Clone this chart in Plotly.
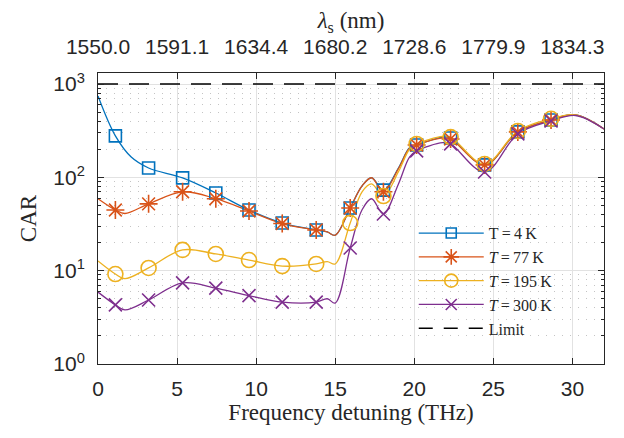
import plotly.graph_objects as go

# ---- data ----
marker_x = [1.1, 3.2, 5.35, 7.45, 9.55, 11.65, 13.8, 15.95, 18.05, 20.15, 22.3, 24.45, 26.55, 28.65]
car_4K = [278, 126, 98.6, 68, 44.7, 32.4, 27.3, 47, 73, 222, 264, 136, 307, 412]
car_77K = [44.7, 52, 70, 59, 43.6, 32, 27.3, 47, 70, 222, 258, 136, 307, 412]
car_195K = [9.2, 10.7, 16.7, 15.1, 13.0, 11.2, 11.8, 32.4, 63, 228, 270, 139, 314, 424]
car_300K = [4.3, 4.85, 7.4, 6.5, 5.4, 4.6, 4.6, 17.5, 40.5, 192, 228, 114, 292, 402]

curve_x_4K = [0, 1.1, 2.1, 3.2, 5.35, 7.45, 9.55, 11.65, 13.8, 14.5, 15.0, 15.95, 16.7, 17.3, 18.05, 19.0, 19.7, 20.15, 21.8, 22.3, 24.45, 26.55, 28.65, 30.2, 32]
curve_y_4K = [745, 278, 165, 126, 98.6, 68, 44.7, 32.4, 27.3, 26, 24, 47, 81, 99, 73, 126, 207, 222, 270, 264, 136, 307, 412, 467, 330]
curve_x_77K = [0, 1.1, 1.7, 3.2, 5.35, 7.45, 9.55, 11.65, 13.8, 14.5, 15.0, 15.95, 16.7, 17.3, 18.05, 19.0, 19.7, 20.15, 21.8, 22.3, 24.45, 26.55, 28.65, 30.2, 32]
curve_y_77K = [59, 44.7, 41, 52, 70, 59, 43.6, 32, 27.3, 26, 24, 47, 81, 99, 70, 124, 205, 222, 265, 258, 136, 307, 412, 467, 330]
curve_x_195K = [0, 1.1, 1.7, 3.2, 5.35, 7.45, 9.55, 11.65, 13.8, 14.5, 15.0, 15.95, 16.7, 17.3, 18.05, 19.0, 19.7, 20.15, 21.8, 22.3, 24.45, 26.55, 28.65, 30.2, 32]
curve_y_195K = [12.7, 9.2, 8.2, 10.7, 16.7, 15.1, 13.0, 11.2, 11.8, 12.5, 11.8, 32.4, 70, 85, 63, 115, 200, 228, 275, 270, 139, 314, 424, 467, 330]
curve_x_300K = [0, 1.1, 1.7, 3.2, 5.35, 7.45, 9.55, 11.65, 13.8, 14.5, 15.0, 15.95, 16.7, 17.3, 18.05, 19.0, 19.7, 20.15, 21.8, 22.3, 24.45, 26.55, 28.65, 30.2, 32]
curve_y_300K = [5.9, 4.3, 3.8, 4.85, 7.4, 6.5, 5.4, 4.6, 4.6, 5.0, 4.5, 17.5, 45, 59, 40.5, 85, 165, 192, 235, 228, 114, 292, 402, 460, 330]

limit_x = [0, 32]
limit_y = [1000, 1000]

lambda_tick_pos = [0, 5, 10, 15, 20, 25, 30]
lambda_tick_text = ["1550.0", "1591.1", "1634.4", "1680.2", "1728.6", "1779.9", "1834.3"]
x_tick_vals = [0, 5, 10, 15, 20, 25, 30]
y_tick_vals = [1, 10, 100, 1000]
y_tick_text = ["10<sup>0</sup>", "10<sup>1</sup>", "10<sup>2</sup>", "10<sup>3</sup>"]
y_minor_vals = [m * 10 ** e for e in range(0, 3) for m in range(2, 10)]

names = ["T\u2009=\u20094\u2009K", "<i>T</i>\u2009=\u200977\u2009K",
         "<i>T</i>\u2009=\u2009195\u2009K", "<i>T</i>\u2009=\u2009300\u2009K"]
colors = ["#0072BD", "#D95319", "#EDB120", "#7E2F8E"]
symbols = ["square-open", "asterisk-open", "circle-open", "x-thin-open"]
msizes = [12, 15, 15, 13]

curves = [(curve_x_4K, curve_y_4K), (curve_x_77K, curve_y_77K),
          (curve_x_195K, curve_y_195K), (curve_x_300K, curve_y_300K)]
markers = [car_4K, car_77K, car_195K, car_300K]

fig = go.Figure()

fig.add_trace(go.Scatter(x=limit_x, y=limit_y, mode="lines", showlegend=False,
                         line=dict(color="black", width=1.5, dash="20px,11px")))

for (cx, cy), col in zip(curves, colors):
    fig.add_trace(go.Scatter(x=cx, y=cy, mode="lines", showlegend=False,
                             line=dict(color=col, width=1.3, shape="spline", smoothing=1.0)))

for my, col, sym, ms in zip(markers, colors, symbols, msizes):
    fig.add_trace(go.Scatter(x=marker_x, y=my, mode="markers", showlegend=False,
                             marker=dict(symbol=sym, size=ms, color=col,
                                         line=dict(color=col, width=1.6))))

# legend entries
for name, col, sym, ms in zip(names, colors, symbols, msizes):
    fig.add_trace(go.Scatter(x=[None], y=[None], mode="lines+markers", name=name,
                             line=dict(color=col, width=1.3),
                             marker=dict(symbol=sym, size=ms - 2, color=col,
                                         line=dict(color=col, width=1.6))))
fig.add_trace(go.Scatter(x=[None], y=[None], mode="lines", name="Limit",
                         line=dict(color="black", width=1.5, dash="14px,11px")))

# dummy trace for top axis
fig.add_trace(go.Scatter(x=[None], y=[None], xaxis="x2", showlegend=False))

axis_col = "#262626"
fig.update_layout(
    width=624, height=438,
    margin=dict(l=90, r=28, t=65, b=82),
    paper_bgcolor="white", plot_bgcolor="white",
    font=dict(family="Liberation Sans", size=21, color=axis_col),
    xaxis=dict(range=[0, 32], tickvals=x_tick_vals, ticks="inside", ticklen=6,
               tickcolor=axis_col, showline=True, linecolor=axis_col, linewidth=1,
               mirror="ticks", showgrid=True, gridcolor="#e2e2e2", gridwidth=1,
               zeroline=False, ticklabelstandoff=6, automargin=False,
               title=dict(text="Frequency detuning (THz)",
                          font=dict(family="Liberation Serif", size=23, color=axis_col),
                          standoff=0)),
    xaxis2=dict(range=[0, 32], overlaying="x", side="top", tickvals=lambda_tick_pos,
                ticktext=lambda_tick_text, ticks="", showline=False, showgrid=False,
                zeroline=False, ticklabelstandoff=14, automargin=False,
                title=dict(text="<i>λ</i><sub>s</sub> (nm)",
                           font=dict(family="Liberation Serif", size=23, color=axis_col),
                           standoff=8)),
    yaxis=dict(type="log", range=[0, 3.118], tickvals=y_tick_vals, ticktext=y_tick_text,
               ticks="inside", ticklen=6, tickcolor=axis_col, showline=True,
               linecolor=axis_col, linewidth=1, mirror="ticks", showgrid=True,
               gridcolor="#e2e2e2", gridwidth=1, zeroline=False, ticklabelstandoff=8,
               automargin=False,
               minor=dict(tickvals=y_minor_vals, ticks="inside", ticklen=3,
                          tickcolor=axis_col, showgrid=True, gridcolor="#c4c4c4",
                          griddash="1px,7px", gridwidth=1),
               title=dict(text="CAR",
                          font=dict(family="Liberation Serif", size=23, color=axis_col),
                          standoff=10)),
    legend=dict(x=0.624, y=0.508, xanchor="left", yanchor="top",
                bgcolor="rgba(0,0,0,0)", borderwidth=0, itemwidth=65,
                font=dict(family="Liberation Serif", size=16, color=axis_col),
                tracegroupgap=0),
)

fig.write_html("out.html")
